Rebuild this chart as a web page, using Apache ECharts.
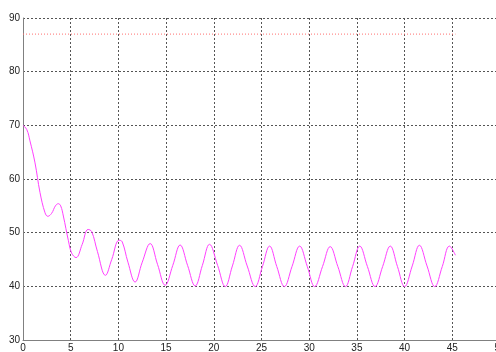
<!DOCTYPE html>
<html>
<head>
<meta charset="utf-8">
<script src="https://cdn.jsdelivr.net/npm/echarts@6/dist/echarts.min.js"></script>
<style>html,body{margin:0;padding:0;background:#fff;}#c{width:496px;height:352px;}</style>
</head>
<body>
<div id="c"></div>
<script>
var xTicks = {min: 0, max: 50, interval: 5};
var yTicks = {min: 30, max: 90, interval: 10};
var responseX = [0,0.4,0.73,1.26,1.78,2.31,2.6,3.0,3.4,3.7,3.95,4.23,4.76,5.1,5.56,6.2,6.82,7.2,7.8,8.64,9.3,10.07,10.4,11.0,11.75,12.5,13.33,
  14.1,14.9,15.7,16.47,17.25,18.05,18.8,19.55,20.4,21.2,21.95,22.7,23.5,24.34,25.1,25.85,26.6,27.4,28.2,29.0,29.8,30.57,31.4,32.2,33.0,33.8,34.55,35.3,36.1,36.9,37.7,38.5,39.25,40.0,40.8,41.55,42.35,43.16,43.95,44.7,45.33];
var responseY = [70,69.2,67.1,63.0,57.5,53.7,53.05,53.6,55.0,55.4,55.0,53.1,48.5,46.2,45.35,47.8,50.6,50.2,46.5,42.05,45.0,48.6,48.3,44.5,40.8,44.5,47.97,
  44.1,40.2,43.9,47.7,43.9,40.07,43.9,47.83,43.9,39.95,43.8,47.65,43.8,39.95,43.7,47.5,43.7,39.95,43.7,47.5,43.7,39.95,43.7,47.4,43.7,39.95,43.7,47.5,43.7,39.95,43.7,47.5,43.7,39.95,43.8,47.65,43.8,39.95,43.7,47.5,45.8];
var setpointX = [0, 45.33];
var setpointY = [87, 87];

function zip(a, b) { return a.map(function (v, i) { return [v, b[i]]; }); }

var chart = echarts.init(document.getElementById('c'), null, {renderer: 'canvas'});
var axisLabel = {color: '#222', fontSize: 10, fontFamily: 'Liberation Sans, Arial, sans-serif'};
chart.setOption({
  animation: false,
  backgroundColor: '#fff',
  grid: {left: 23, top: 18, width: 477, height: 322, containLabel: false, outerBoundsMode: 'none'},
  xAxis: {
    type: 'value', min: xTicks.min, max: xTicks.max, interval: xTicks.interval,
    axisLine: {lineStyle: {color: '#808080', width: 1}},
    axisTick: {show: false},
    axisLabel: Object.assign({margin: 3}, axisLabel),
    splitLine: {show: true, lineStyle: {color: '#555', type: [2, 2], width: 1}}
  },
  yAxis: {
    type: 'value', min: yTicks.min, max: yTicks.max, interval: yTicks.interval,
    axisLine: {show: true, lineStyle: {color: '#808080', width: 1}},
    axisTick: {show: false},
    axisLabel: Object.assign({margin: 3}, axisLabel),
    splitLine: {show: true, lineStyle: {color: '#555', type: [2, 2], width: 1}}
  },
  series: [
    {
      type: 'line', data: zip(setpointX, setpointY), symbol: 'none',
      lineStyle: {color: '#ff7070', width: 1, type: [1, 2]}
    },
    {
      type: 'line', data: zip(responseX, responseY), symbol: 'none', smooth: 0.4,
      lineStyle: {color: '#ff40ff', width: 1}
    }
  ]
});
</script>
</body>
</html>
